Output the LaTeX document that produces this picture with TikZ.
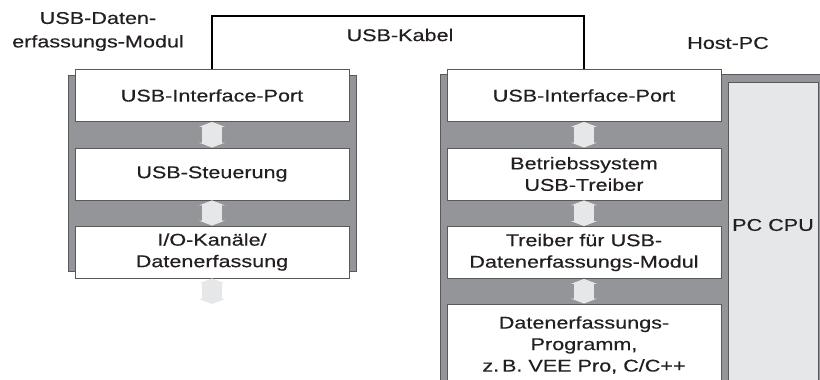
\documentclass[tikz,border=0pt]{standalone}
\usepackage{fontspec}
\setmainfont[FakeStretch=1.27,FakeBold=0.4]{Liberation Sans}
\usetikzlibrary{arrows.meta}
\definecolor{P}{RGB}{147,149,152}
\definecolor{E}{RGB}{88,89,91}
\definecolor{L}{RGB}{230,231,232}
\definecolor{T}{RGB}{35,31,32}
\def\Xscale{820}
\def\Yscale{380}
\begin{document}
\begin{tikzpicture}[x=1pt,y=1pt,
    layer/.style={draw=E,fill=white,text=T,line width=0.8pt,minimum width=274pt,minimum height=52pt,
      align=center,inner sep=0pt,font=\fontsize{17}{21.5}\selectfont},
    caption/.style={align=center,text=T,inner sep=0pt,font=\fontsize{17}{23.5}\selectfont},
    link/.style={L,line width=20pt,{Triangle[length=5pt,width=26pt]}-{Triangle[length=5pt,width=26pt]}}]
    \path[use as bounding box] (0,0) rectangle (\Xscale,\Yscale);
    % Gehaeuse
    \draw[E,fill=P,line width=1pt] (68,108) rectangle (356,304);
    \draw[E,fill=P,line width=1pt] (440,-5) rectangle (830,305);
    \draw[E,fill=L,line width=1pt] (728,-5) rectangle (818,297);
    \node[caption] (cpu) at (773,155) {PC CPU};
    % Schichten
    \node[layer] (L1) at (212,284.5) {USB-Interface-Port};
    \node[layer] (L2) at (212,206) {USB-Steuerung};
    \node[layer] (L3) at (212,128) {I/O-Kanäle/\\Datenerfassung};
    \node[layer] (R1) at (584,284.5) {USB-Interface-Port};
    \node[layer] (R2) at (584,206) {Betriebssystem\\USB-Treiber};
    \node[layer] (R3) at (584,127.5) {Treiber für USB-\\Datenerfassungs-Modul};
    \node[layer,minimum height=82pt] (R4) at (584,35) {Datenerfassungs-\\Programm,\\z.\,B. VEE Pro, C/C++};
    \coordinate (Lend) at (212,76);
    \draw[link] (L1.south) -- (L2.north);
    \draw[link] (L2.south) -- (L3.north);
    \draw[link] (L3.south) -- (Lend);
    \draw[link] (R1.south) -- (R2.north);
    \draw[link] (R2.south) -- (R3.north);
    \draw[link] (R3.south) -- (R4.north);
    % Kabel
    \draw[line width=1.4pt] (L1.north) -- ++(0,53) -| (R1.north);
    \node[caption] (cable) at (400,345) {USB-Kabel};
    \node[caption] (module) at (98,348.5) {USB-Daten-\\erfassungs-Modul};
    \node[caption] (host) at (728,337) {Host-PC};
\end{tikzpicture}
\end{document}
